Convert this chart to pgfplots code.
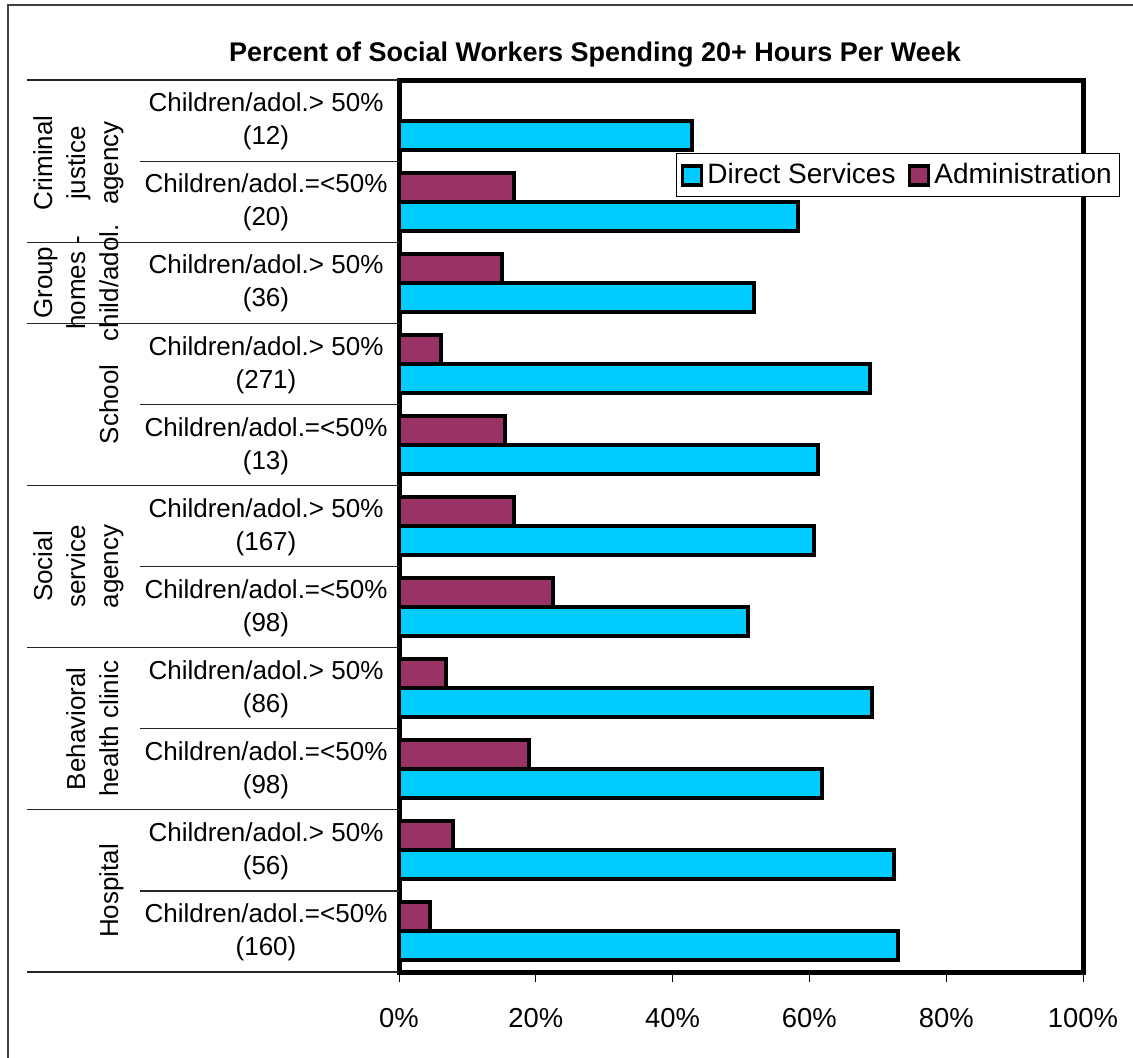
\documentclass[border=0pt]{standalone}
\usepackage{pgfplots}
\pgfplotsset{compat=1.18}
\usepackage{pgfplotstable}
\usepackage{fontspec}
\setmainfont{Liberation Sans}
\definecolor{dscyan}{HTML}{00CCFF}
\definecolor{adplum}{HTML}{993366}

% y = 10 - category index (top category first)
\pgfplotstableread{
y direct
10 42.9
9  58.3
8  51.9
7  68.8
6  61.3
5  60.7
4  51.0
3  69.2
2  61.9
1  72.4
0  73.0
}\directtbl
\pgfplotstableread{
y admin
9  16.8
8  15.0
7  6.1
6  15.5
5  16.8
4  22.5
3  6.8
2  19.0
1  7.9
0  4.5
}\admintbl

\begin{document}
\begin{tikzpicture}
\begin{scope}[x=0.5pt,y=-0.5pt]
\useasboundingbox (0,0) rectangle (1133,1057);
\draw[black!75, line width=0.8pt] (8,1070) -- (8,5) -- (1150,5);
\end{scope}

\begin{axis}[
  at={(199.5pt,-486pt)}, anchor=south west,
  scale only axis, width=342pt, height=446pt,
  xmin=0, xmax=100, ymin=-0.5, ymax=10.5,
  xtick={0,20,40,60,80,100},
  xticklabel={\pgfmathprintnumber{\tick}\%},
  /pgf/number format/assume math mode=true,
  ytick=\empty,
  xtick pos=bottom,
  xtick align=outside,
  major tick length=5pt,
  tick style={black, line width=0.5pt},
  axis line style={line width=2.5pt},
  ticklabel style={font=\fontsize{13.7}{15}\selectfont},
  xticklabel style={yshift=-9.5pt},
  legend style={at={(0.405,0.918)}, anchor=north west, draw=black, line width=0.5pt,
    font=\fontsize{14}{16}\selectfont, inner xsep=2pt, inner ysep=3pt,
    /tikz/every even column/.append style={column sep=4pt}},
  legend columns=-1,
  legend cell align=left,
  legend image code/.code={\draw[#1] (0pt,-4.8pt) rectangle (9.6pt,4.8pt);},
]
\addplot[xbar, bar width=14.5pt, bar shift=-7.25pt, fill=dscyan, draw=black, line width=2pt, forget plot]
  table[x=direct, y=y] {\directtbl};
\addplot[xbar, bar width=14.5pt, bar shift=7.25pt, fill=adplum, draw=black, line width=2pt, forget plot]
  table[x=admin, y=y] {\admintbl};
\addlegendimage{fill=dscyan, draw=black, line width=1.8pt}
\addlegendentry{Direct Services}
\addlegendimage{fill=adplum, draw=black, line width=1.8pt}
\addlegendentry{Administration}
\end{axis}

\begin{scope}[x=0.5pt,y=-0.5pt]
% title
\node[font=\fontsize{13.5}{16}\selectfont\bfseries] at (595,55) {Percent of Social Workers Spending 20+ Hours Per Week};
% separators
\foreach \yy in {80,242.2,323.3,485.5,647.6,809.8,972}
  \draw[black!85, line width=0.6pt] (27,\yy) -- (399,\yy);
\foreach \yy in {161.1,404.4,566.5,728.7,890.9}
  \draw[black!85, line width=0.6pt] (140,\yy) -- (399,\yy);
% sub-category labels
\tikzset{sub/.style={align=center, font=\fontsize{13}{16.5}\selectfont, inner sep=0pt}}
\node[sub] at (266,121.5) {Children/adol.> 50\%\\(12)};
\node[sub] at (266,202.6) {Children/adol.=<50\%\\(20)};
\node[sub] at (266,283.7) {Children/adol.> 50\%\\(36)};
\node[sub] at (266,364.8) {Children/adol.> 50\%\\(271)};
\node[sub] at (266,445.9) {Children/adol.=<50\%\\(13)};
\node[sub] at (266,527.0) {Children/adol.> 50\%\\(167)};
\node[sub] at (266,608.1) {Children/adol.=<50\%\\(98)};
\node[sub] at (266,689.2) {Children/adol.> 50\%\\(86)};
\node[sub] at (266,770.3) {Children/adol.=<50\%\\(98)};
\node[sub] at (266,851.4) {Children/adol.> 50\%\\(56)};
\node[sub] at (266,932.5) {Children/adol.=<50\%\\(160)};
% group labels (rotated)
\tikzset{grp/.style={rotate=90, font=\fontsize{13}{16}\selectfont, inner sep=0pt, text height=0.75em, text depth=0.25em}}
\node[grp] at (47,163) {Criminal};
\node[grp] at (80,163) {justice};
\node[grp] at (113,163) {agency};
\node[grp] at (47,282.7) {Group};
\node[grp] at (80,282.7) {homes -};
\node[grp] at (113,282.7) {child/adol.};
\node[grp] at (113,404.4) {School};
\node[grp] at (47,566.5) {Social};
\node[grp] at (80,566.5) {service};
\node[grp] at (113,566.5) {agency};
\node[grp] at (80,728.7) {Behavioral};
\node[grp] at (113,728.7) {health clinic};
\node[grp] at (113,890.9) {Hospital};
\end{scope}
\end{tikzpicture}
\end{document}
